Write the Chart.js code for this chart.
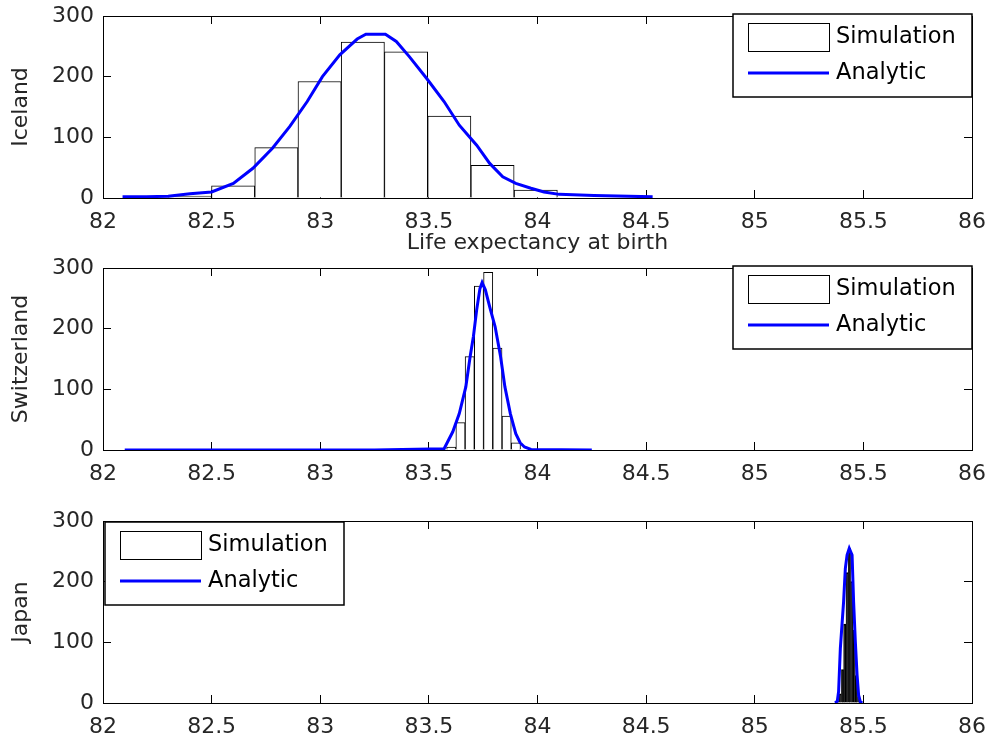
<!DOCTYPE html>
<html>
<head>
<meta charset="utf-8">
<script src="https://cdn.jsdelivr.net/npm/chart.js@4.4.1/dist/chart.umd.min.js"></script>
<style>
  html, body { margin: 0; padding: 0; background: #fff; }
  .panel { position: absolute; left: 0; width: 987px; }
</style>
</head>
<body>
<div class="panel" style="top:0;height:256px"><canvas id="iceland"></canvas></div>
<div class="panel" style="top:256px;height:246px"><canvas id="switzerland"></canvas></div>
<div class="panel" style="top:505px;height:235px"><canvas id="japan"></canvas></div>
<script>
const xTickValues = [82, 82.5, 83, 83.5, 84, 84.5, 85, 85.5, 86];
const yTickValues = [0, 100, 200, 300];

const icelandBinCenters = [82.400, 82.599, 82.798, 82.997, 83.196, 83.395, 83.594, 83.793, 83.992];
const icelandCounts = [3, 20, 83, 192, 257, 241, 135, 54, 13];
const icelandCurveX = [82.09, 82.2, 82.3, 82.4, 82.5, 82.6, 82.69, 82.78, 82.86, 82.94, 83.01, 83.09, 83.17, 83.21,
  83.3, 83.35, 83.41, 83.49, 83.57, 83.64, 83.72, 83.78, 83.84, 83.9, 83.97, 84.03, 84.1, 84.26, 84.53];
const icelandCurveY = [2, 2, 3, 7, 10, 24, 49, 82, 118, 159, 200, 236, 262, 270,
  270, 258, 233, 197, 159, 120, 87, 57, 35, 24, 16, 10, 6, 4, 2];

const swissBinCenters = [83.603, 83.6455, 83.688, 83.7305, 83.773, 83.8155, 83.858, 83.9005];
const swissCounts = [5, 45, 154, 270, 293, 168, 56, 12];
const swissCurveX = [82.1, 83.25, 83.57, 83.61, 83.64, 83.67, 83.69, 83.705, 83.72, 83.735, 83.745, 83.76,
  83.78, 83.805, 83.83, 83.85, 83.875, 83.9, 83.92, 83.94, 83.97, 84.25];
const swissCurveY = [0, 0, 2, 30, 60, 104, 154, 187, 231, 266, 276, 264,
  236, 203, 154, 104, 60, 27, 12, 5, 1, 0];

const japanBinCenters = [85.382, 85.393, 85.404, 85.414, 85.425, 85.436, 85.447, 85.458, 85.468, 85.479];
const japanCounts = [4, 15, 55, 130, 215, 255, 200, 120, 45, 10];
const japanCurveX = [85.37, 85.38, 85.386, 85.394, 85.409, 85.417, 85.425, 85.435, 85.448, 85.455,
  85.463, 85.471, 85.478, 85.486, 85.495];
const japanCurveY = [0, 3, 19, 90, 167, 222, 244, 255, 244, 167, 101, 46, 13, 2, 0];

const FONT = "'DejaVu Sans', sans-serif";
const TEXT = '#262626';
Chart.defaults.font.family = FONT;
Chart.defaults.font.size = 22;
Chart.defaults.color = TEXT;

// MATLAB-style boxed legend, drawn inside the axes
const boxLegend = {
  id: 'boxLegend',
  afterDraw(chart, args, opts) {
    const { ctx, chartArea: a } = chart;
    const w = 239, h = 83;
    const x0 = opts.side === 'left' ? a.left + 2 : a.right - w;
    const y0 = opts.side === 'left' ? a.top + 1 : a.top - 2;
    ctx.save();
    ctx.fillStyle = '#fff';
    ctx.fillRect(x0, y0, w, h);
    ctx.strokeStyle = '#000';
    ctx.lineWidth = 1.5;
    ctx.strokeRect(x0, y0, w, h);
    ctx.font = '22.5px ' + FONT;
    ctx.textBaseline = 'middle';
    chart.data.datasets.forEach((ds, i) => {
      const cy = y0 + 23 + i * 36;
      if (ds.type === 'line') {
        ctx.strokeStyle = ds.borderColor;
        ctx.lineWidth = ds.borderWidth;
        ctx.beginPath();
        ctx.moveTo(x0 + 15, cy);
        ctx.lineTo(x0 + 96, cy);
        ctx.stroke();
      } else {
        ctx.fillStyle = '#fff';
        ctx.fillRect(x0 + 15, cy - 14, 81, 28);
        ctx.strokeStyle = '#000';
        ctx.lineWidth = 1;
        ctx.strokeRect(x0 + 15.5, cy - 13.5, 81, 28);
      }
      ctx.fillStyle = '#000';
      ctx.fillText(ds.label, x0 + 103, cy);
    });
    ctx.restore();
  }
};

function makePanel(id, opt) {
  const plotH = 182;
  const boxH = document.getElementById(id).parentNode.clientHeight;
  const axisH = boxH - opt.padTop - plotH;
  const setX = (s) => { s.ticks = xTickValues.map((v) => ({ value: v })); };
  const setY = (s) => { s.ticks = yTickValues.map((v) => ({ value: v })); };
  const noPad = (s) => { s.paddingLeft = 0; s.paddingRight = 0; s.paddingTop = 0; s.paddingBottom = 0; };
  const frame = { color: '#000', width: 1 };
  const inward = { display: true, drawOnChartArea: false, drawTicks: true, tickLength: -8, color: '#000', offset: false };
  const label = (v) => String(v);

  new Chart(document.getElementById(id), {
    type: 'bar',
    data: {
      datasets: [
        {
          type: 'bar',
          label: 'Simulation',
          data: opt.centers.map((x, i) => ({ x, y: opt.counts[i] })),
          backgroundColor: opt.barFill || '#fff',
          borderColor: '#000',
          borderWidth: 1,
          barPercentage: 1,
          categoryPercentage: 1,
          order: 1
        },
        {
          type: 'line',
          label: 'Analytic',
          data: opt.curveX.map((x, i) => ({ x, y: opt.curveY[i] })),
          borderColor: '#0000ff',
          borderWidth: 3,
          pointRadius: 0,
          tension: 0,
          fill: false,
          order: 0
        }
      ]
    },
    options: {
      responsive: true,
      maintainAspectRatio: false,
      animation: false,
      layout: { padding: { left: 0, right: 15, top: opt.padTop, bottom: 0 } },
      plugins: {
        legend: { display: false },
        tooltip: { enabled: false },
        boxLegend: { side: opt.legendSide }
      },
      scales: {
        x: {
          type: 'linear',
          position: 'bottom',
          min: 82, max: 86,
          offset: false,
          grid: inward,
          border: frame,
          afterBuildTicks: setX,
          afterFit: (s) => { s.height = axisH; noPad(s); },
          ticks: { padding: 19, color: TEXT, maxRotation: 0, autoSkip: false, callback: label },
          title: {
            display: !!opt.xTitle,
            text: opt.xTitle || '',
            color: TEXT,
            padding: { top: 0, bottom: 0 }
          }
        },
        xTop: {
          type: 'linear',
          position: 'top',
          min: 82, max: 86,
          offset: false,
          grid: inward,
          border: frame,
          afterBuildTicks: setX,
          afterFit: (s) => { s.height = 0; noPad(s); },
          ticks: { display: false }
        },
        y: {
          position: 'left',
          min: 0, max: 300,
          grid: inward,
          border: frame,
          afterBuildTicks: setY,
          afterFit: (s) => { s.width = 103; noPad(s); },
          ticks: { padding: 17, color: TEXT, callback: label },
          title: { display: true, text: opt.yTitle, color: TEXT, padding: { top: 8, bottom: 0 } }
        },
        yRight: {
          position: 'right',
          min: 0, max: 300,
          grid: inward,
          border: frame,
          afterBuildTicks: setY,
          afterFit: (s) => { s.width = 0; noPad(s); },
          ticks: { display: false }
        }
      }
    },
    plugins: [boxLegend]
  });
}

makePanel('iceland', {
  padTop: 16, yTitle: 'Iceland', xTitle: 'Life expectancy at birth', legendSide: 'right',
  centers: icelandBinCenters, counts: icelandCounts, curveX: icelandCurveX, curveY: icelandCurveY
});
makePanel('switzerland', {
  padTop: 12, yTitle: 'Switzerland', legendSide: 'right',
  centers: swissBinCenters, counts: swissCounts, curveX: swissCurveX, curveY: swissCurveY
});
makePanel('japan', {
  padTop: 16, yTitle: 'Japan', legendSide: 'left', barFill: '#000',
  centers: japanBinCenters, counts: japanCounts, curveX: japanCurveX, curveY: japanCurveY
});
</script>
</body>
</html>
